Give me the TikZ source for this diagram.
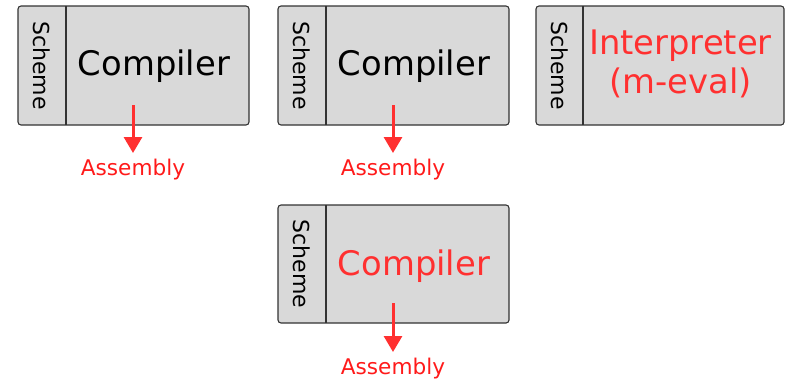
\documentclass[tikz,border=0pt]{standalone}
\usepackage{fontspec}
\setmainfont{DejaVu Sans}
\usetikzlibrary{arrows.meta}
\definecolor{boxfill}{HTML}{D9D9D9}
\definecolor{boxline}{HTML}{333333}
\definecolor{hot}{HTML}{FF3030}
\definecolor{outred}{HTML}{FF1A1A}
\tikzset{
  panel/.style={draw=boxline, fill=boxfill, line width=1.1pt, rounded corners=3pt},
  divider/.style={draw=boxline, line width=1.1pt},
  lang/.style={rotate=-90, font=\fontsize{22}{24}\selectfont, inner sep=0pt},
  tool/.style={font=\fontsize{33.8}{36}\selectfont, inner sep=0pt, anchor=base},
  outlbl/.style={text=outred, font=\fontsize{21.6}{24}\selectfont, inner sep=0pt, anchor=base},
  emit/.style={draw=hot, line width=3pt, -{Triangle[width=18pt,length=16pt]}}
}
\begin{document}
\begin{tikzpicture}[x=1pt, y=-1pt]
  \useasboundingbox (0,0) rectangle (789,381);

  % Panel 1: Scheme compiler
  \draw[panel] (18,6) rectangle (249,125);
  \draw[divider] (66,6) -- (66,125);
  \node[lang] (s1) at (41.7,65.3) {Scheme};
  \node[tool] (c1) at (154,75) {Compiler};
  \coordinate (a1) at (133,105);
  \coordinate (t1) at (133,153);
  \node[outlbl] (o1) at (133,175) {Assembly};
  \draw[emit] (a1) -- (t1);

  % Panel 2: Scheme compiler
  \draw[panel] (278,6) rectangle (509,125);
  \draw[divider] (326,6) -- (326,125);
  \node[lang] (s2) at (301.7,65.3) {Scheme};
  \node[tool] (c2) at (414,75) {Compiler};
  \coordinate (a2) at (393,105);
  \coordinate (t2) at (393,153);
  \node[outlbl] (o2) at (393,175) {Assembly};
  \draw[emit] (a2) -- (t2);

  % Panel 3: Scheme interpreter
  \draw[panel] (536,6) rectangle (784,125);
  \draw[divider] (583,6) -- (583,125);
  \node[lang] (s3) at (559.5,65.3) {Scheme};
  \node[tool, text=hot] (i3a) at (680.5,54) {Interpreter};
  \node[tool, text=hot] (i3b) at (680.5,93) {(m-eval)};

  % Panel 4: Scheme compiler (red)
  \draw[panel] (278,205) rectangle (509,323);
  \draw[divider] (326,205) -- (326,323);
  \node[lang] (s4) at (301.7,264) {Scheme};
  \node[tool, text=hot] (c4) at (414,275) {Compiler};
  \coordinate (a4) at (393,303);
  \coordinate (t4) at (393,352);
  \node[outlbl] (o4) at (393,374) {Assembly};
  \draw[emit] (a4) -- (t4);
\end{tikzpicture}
\end{document}
